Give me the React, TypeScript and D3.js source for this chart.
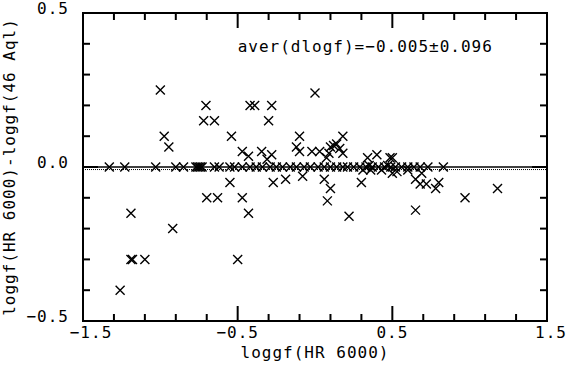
import React from "react";
import * as d3 from "d3";

// loggf(HR 6000) and loggf(HR 6000)-loggf(46 Aql)
const loggfHR = [
  -1.33, -1.23, -1.03, -0.9, -0.85, -0.77, -0.76, -0.75, -0.74, -0.73, -0.65, -0.62, -0.55, -0.52,
  -0.47, -0.42, -0.38, -0.34, -0.29, -0.25, -0.21, -0.16, -0.12, -0.07, -0.03, 0.02, 0.06, 0.1,
  0.14, 0.18, 0.21, 0.25, 0.29, 0.31, 0.33, 0.35, 0.37, 0.41, 0.43, 0.45, 0.47, 0.49, 0.52, 0.56,
  0.6, 0.64, 0.68, 0.73, 0.83,
  -1.26, -1.19, -1.18, -1.1, -1.19, -0.92, -0.5, -0.7, -0.63, -0.47, -0.43, -0.55, -1.0, -0.975,
  -0.945, -0.705, -0.72, -0.65, -0.54, -0.42, -0.39, -0.28, -0.3, 0.0, -0.1, 0.18, -0.12, -0.1,
  -0.47, -0.43, -0.345, -0.28, -0.31, -0.02, 0.03, 0.1, 0.14, 0.12, 0.16, 0.09, 0.18, 0.075,
  0.34, 0.4, 0.485, 0.5, -0.27, -0.19, -0.08, 0.06, 0.1, 0.08, 0.22, 0.3, 0.5, 0.36, 0.53, 0.6,
  0.65, 0.68, 0.72, 0.78, 0.8, 0.69, 0.65, 0.97, 1.18,
];
const dLoggf = [
  0, 0, 0, 0, 0, 0, 0, 0, 0, 0, 0, 0, 0, 0,
  0, 0, 0, 0, 0, 0, 0, 0, 0, 0, 0, 0, 0, 0,
  0, 0, 0, 0, 0, -0.01, 0, 0.005, 0, 0, -0.01, 0, 0.005, 0, 0, 0,
  0, 0, 0, 0, 0,
  -0.4, -0.3, -0.3, -0.3, -0.15, -0.2, -0.3, -0.1, -0.1, -0.1, -0.15, -0.05, 0.25, 0.1,
  0.065, 0.2, 0.15, 0.15, 0.1, 0.2, 0.2, 0.2, 0.15, 0.24, 0.1, 0.1, 0.065, 0.05,
  0.05, 0.035, 0.05, 0.04, 0.025, 0.05, 0.05, 0.065, 0.075, 0.07, 0.06, 0.045, 0.045, 0.03,
  0.03, 0.04, 0.03, 0.03, -0.05, -0.04, -0.03, -0.04, -0.07, -0.11, -0.16, -0.05, -0.02, -0.01, -0.015, -0.01,
  -0.04, -0.055, -0.055, -0.07, -0.05, -0.02, -0.14, -0.1, -0.07,
];
const xTickLabels = ["-1.5", "-0.5", "0.5", "1.5"];
const yTickLabels = ["-0.5", "0.0", "0.5"];
const meanDiff = -0.005;
const annotation = "aver(dlogf)=-0.005\u00b10.096";

const W = 567,
  H = 366;
const margin = { top: 13, right: 20, bottom: 45, left: 83 };
const font = "'DejaVu Sans Mono', monospace";

const App = () => {
  const x = d3
    .scaleLinear()
    .domain([-1.5, 1.5])
    .range([margin.left, W - margin.right]);
  const y = d3
    .scaleLinear()
    .domain([-0.5, 0.5])
    .range([H - margin.bottom, margin.top]);
  const [x0, x1] = x.range();
  const [y0, y1] = y.range();

  const xTicks = d3.range(-1.3, 1.31, 0.2).map((v) => +v.toFixed(1));
  const yTicks = d3.range(-0.4, 0.41, 0.1).map((v) => +v.toFixed(1));
  const isMajorX = (v: number) => Math.abs(Math.abs(v) - 0.5) < 1e-6;
  const isMajorY = (v: number) => Math.abs(v) < 1e-6;
  const minor = 7,
    major = 15;
  const m = 4.5;

  const textStyle = { fontFamily: font, fontSize: 16, letterSpacing: 1 };
  const fix = (s: string) => s.replace("-", "\u2212");

  return (
    <svg
      width={W}
      height={H}
      style={{ position: "absolute", left: 0, top: 0, background: "#fff" }}
    >
      <g stroke="#000" strokeWidth={2} fill="none">
        {xTicks.map((v) => {
          const l = isMajorX(v) ? major : minor;
          return (
            <g key={"xt" + v}>
              <line x1={x(v)} x2={x(v)} y1={y0} y2={y0 - l} />
              <line x1={x(v)} x2={x(v)} y1={y1} y2={y1 + l} />
            </g>
          );
        })}
        {yTicks.map((v) => {
          const l = isMajorY(v) ? major : minor;
          return (
            <g key={"yt" + v}>
              <line x1={x0} x2={x0 + l} y1={y(v)} y2={y(v)} />
              <line x1={x1} x2={x1 - l} y1={y(v)} y2={y(v)} />
            </g>
          );
        })}
        <rect x={x0} y={y1} width={x1 - x0} height={y0 - y1} />
      </g>

      <line x1={x0} x2={x1} y1={y(0)} y2={y(0)} stroke="#000" strokeWidth={1.5} />
      <line
        x1={x0}
        x2={x1}
        y1={y(meanDiff) + 1}
        y2={y(meanDiff) + 1}
        stroke="#000"
        strokeWidth={1}
        strokeDasharray="1,1"
      />

      <g stroke="#000" strokeWidth={1.4}>
        {loggfHR.map((v, i) => {
          const cx = x(v),
            cy = y(dLoggf[i]);
          return (
            <path
              key={i}
              d={`M${cx - m},${cy - m}L${cx + m},${cy + m}M${cx - m},${cy + m}L${cx + m},${cy - m}`}
            />
          );
        })}
      </g>

      <g style={textStyle} fill="#000">
        {xTickLabels.map((s, i) => {
          const v = +s;
          const last = i === xTickLabels.length - 1;
          const px = i === 0 ? x(v) + 8 : last ? W : x(v);
          return (
            <text key={s} x={px} y={y0 + 17} textAnchor={last ? "end" : "middle"}>
              {fix(s)}
            </text>
          );
        })}
        {yTickLabels.map((s) => (
          <text key={s} x={x0 - 14} y={y(+s) + 1} textAnchor="end">
            {fix(s)}
          </text>
        ))}
        <text x={x(-0.5)} y={52}>
          {annotation.replace("=-", "=\u2212")}
        </text>
        <text x={(x0 + x1) / 2} y={358} textAnchor="middle">
          loggf(HR 6000)
        </text>
        <text
          transform={`translate(15,${(y0 + y1) / 2}) rotate(-90)`}
          textAnchor="middle"
        >
          loggf(HR 6000)-loggf(46 Aql)
        </text>
      </g>
    </svg>
  );
};

export default App;
